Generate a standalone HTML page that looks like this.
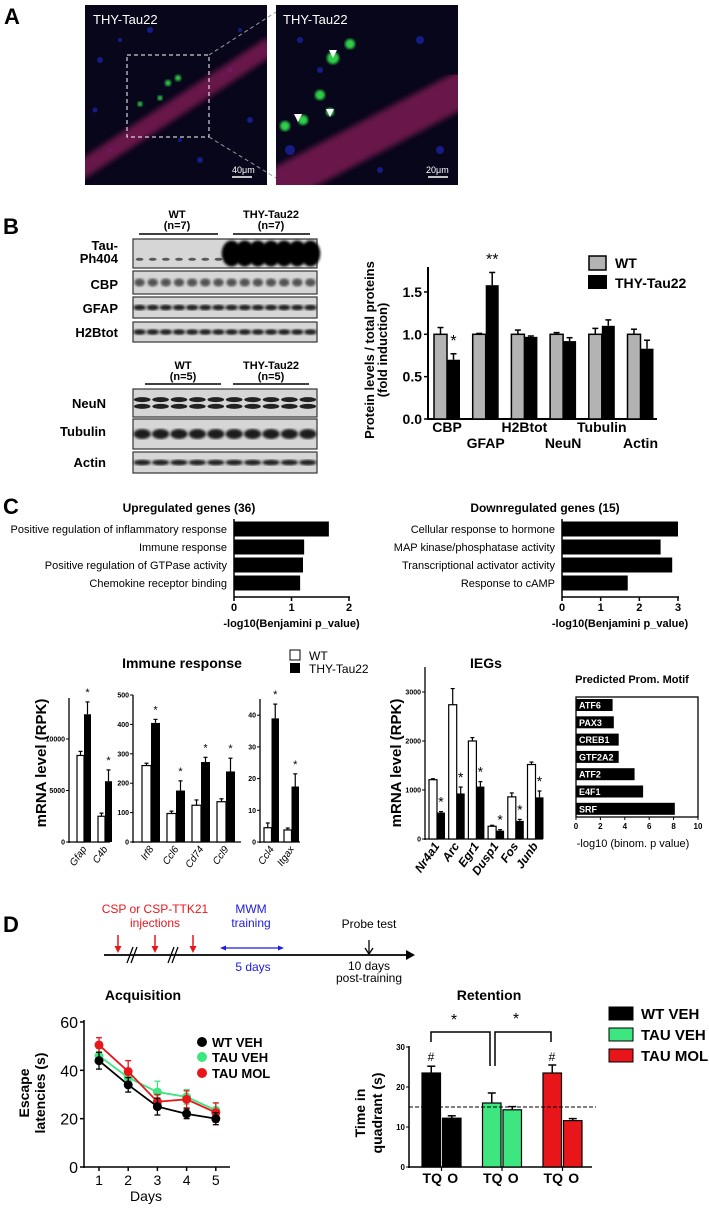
<!DOCTYPE html>
<html><head><meta charset="utf-8">
<style>
html,body{margin:0;padding:0;background:#fff;}
svg{display:block;font-family:"Liberation Sans",sans-serif;}
</style></head>
<body>
<svg id="fig" width="709" height="1210" viewBox="0 0 709 1210" xmlns="http://www.w3.org/2000/svg">
<defs>
<filter id="blur1"><feGaussianBlur stdDeviation="1.2"/></filter>
<filter id="blur3"><feGaussianBlur stdDeviation="3"/></filter>
<clipPath id="clipA1"><rect x="85" y="5" width="182" height="180"/></clipPath>
<clipPath id="clipA2"><rect x="276" y="5" width="182" height="180"/></clipPath>
</defs>
<!-- Panel A -->
<text x="4" y="24" font-size="22" font-weight="bold">A</text>
<g>
<rect x="85" y="5" width="182" height="180" fill="#07061a"/>
<g clip-path="url(#clipA1)">
<g fill="#1a22a0" opacity="0.8">
<circle cx="100" cy="60" r="3"/><circle cx="120" cy="40" r="2"/><circle cx="150" cy="30" r="3"/><circle cx="230" cy="70" r="2.5"/><circle cx="250" cy="120" r="3"/><circle cx="110" cy="150" r="2"/><circle cx="200" cy="160" r="3"/><circle cx="240" cy="30" r="2"/><circle cx="95" cy="110" r="2.5"/><circle cx="180" cy="140" r="2"/>
</g>
<line x1="78" y1="172" x2="272" y2="45" stroke="#8a1d5a" stroke-width="18" opacity="0.75" filter="url(#blur3)"/>
</g>
<circle cx="178" cy="78" r="3" fill="#2fd04a" filter="url(#blur1)"/><circle cx="168" cy="83" r="3" fill="#2fd04a" filter="url(#blur1)"/>
<circle cx="160" cy="98" r="2.5" fill="#2fd04a" filter="url(#blur1)"/><circle cx="140" cy="104" r="2.5" fill="#2fd04a" filter="url(#blur1)"/>
<rect x="127" y="55" width="82" height="82" fill="none" stroke="#fff" stroke-width="1" stroke-dasharray="4,3"/>
<text x="93" y="24" font-size="13" fill="#fff">THY-Tau22</text>
<line x1="232" y1="177" x2="252" y2="177" stroke="#fff" stroke-width="1.5"/>
<text x="232" y="173" font-size="9" fill="#fff">40μm</text>
</g>
<line x1="209" y1="55" x2="276" y2="12" stroke="#999" stroke-dasharray="4,3"/>
<line x1="209" y1="137" x2="276" y2="178" stroke="#999" stroke-dasharray="4,3"/>
<g>
<rect x="276" y="5" width="182" height="180" fill="#07061a"/>
<g clip-path="url(#clipA2)">
<g fill="#1a22a0" opacity="0.8">
<circle cx="290" cy="150" r="5"/><circle cx="300" cy="40" r="3"/><circle cx="420" cy="40" r="4"/><circle cx="440" cy="150" r="4"/><circle cx="380" cy="170" r="3"/><circle cx="320" cy="70" r="3"/>
</g>
<line x1="270" y1="190" x2="470" y2="85" stroke="#8a1d5a" stroke-width="36" opacity="0.75" filter="url(#blur3)"/>
</g>
<circle cx="333" cy="58" r="6" fill="#2fd04a" filter="url(#blur1)"/><circle cx="350" cy="44" r="5" fill="#2fd04a" filter="url(#blur1)"/>
<circle cx="320" cy="95" r="5" fill="#2fd04a" filter="url(#blur1)"/><circle cx="330" cy="112" r="4" fill="#2fd04a" filter="url(#blur1)"/>
<circle cx="303" cy="120" r="5" fill="#2fd04a" filter="url(#blur1)"/><circle cx="285" cy="126" r="5" fill="#2fd04a" filter="url(#blur1)"/>
<polygon points="329,50 337,50 333,58" fill="#fff"/><polygon points="294,114 302,114 298,122" fill="#fff"/><polygon points="326,109 334,109 330,117" fill="#fff"/>
<text x="283" y="24" font-size="13" fill="#fff">THY-Tau22</text>
<line x1="428" y1="177" x2="448" y2="177" stroke="#fff" stroke-width="1.5"/>
<text x="426" y="173" font-size="9" fill="#fff">20μm</text>
</g>
<!-- Panel B blots -->
<text x="3" y="234" font-size="22" font-weight="bold">B</text>
<g id="blots" font-weight="bold" font-size="13"></g>
<g id="chartB"></g>
<!-- Panel C -->
<text x="3" y="514" font-size="22" font-weight="bold">C</text>
<g id="chartC"></g>
<g id="chartC2"></g>
<!-- Panel D -->
<text x="3" y="932" font-size="22" font-weight="bold">D</text>
<g id="timeline"></g>
<g id="chartD"></g>
</svg>
<script>
// ---------- data ----------
const bCats=['CBP','GFAP','H2Btot','NeuN','Tubulin','Actin'];
const bWT=[1,1,1,1,1,1];
const bWTerr=[0.08,0.01,0.05,0.02,0.07,0.06];
const bTau=[0.70,1.58,0.97,0.92,1.10,0.83];
const bTauErr=[0.07,0.15,0.01,0.04,0.07,0.10];
const bTicks=[0,0.5,1.0,1.5];

const upTerms=['Positive regulation of inflammatory response','Immune response','Positive regulation of GTPase activity','Chemokine receptor binding'];
const upVals=[1.65,1.22,1.20,1.15];
const downTerms=['Cellular response to hormone','MAP kinase/phosphatase activity','Transcriptional activator activity','Response to cAMP'];
const downVals=[3.0,2.55,2.85,1.70];

const im1Cats=['Gfap','C4b'];const im1WT=[8400,2500];const im1WTe=[400,300];const im1Tau=[12400,5900];const im1TauE=[1200,1100];
const im2Cats=['Irf8','Ccl6','Cd74','Ccl9'];const im2WT=[260,97,125,137];const im2WTe=[8,8,18,10];const im2Tau=[405,175,272,240];const im2TauE=[12,33,16,45];
const im3Cats=['Ccl4','Itgax'];const im3WT=[4.5,3.8];const im3WTe=[1.5,0.6];const im3Tau=[39,17.5];const im3TauE=[4.5,4];
const iegCats=['Nr4a1','Arc','Egr1','Dusp1','Fos','Junb'];const iegWT=[1210,2740,2000,260,860,1520];const iegWTe=[20,330,70,20,80,50];
const iegTau=[540,930,1070,170,370,850];const iegTauE=[20,130,100,20,30,130];
const motifs=['ATF6','PAX3','CREB1','GTF2A2','ATF2','E4F1','SRF'];const motifVals=[3.0,3.1,3.5,3.5,4.8,5.5,8.1];

const days=[1,2,3,4,5];
const wtVeh=[44,34,25,22,20];const wtVehE=[3.5,3,3.5,2,2.5];
const tauVeh=[46,37,31,29,23.5];const tauVehE=[3,3,4.5,3,3];
const tauMol=[50.5,39.5,27,28,22.5];const tauMolE=[3,4.5,3,3.5,4];
const retGroups=['WT VEH','TAU VEH','TAU MOL'];
const retTQ=[23.5,16,23.5];const retTQe=[1.7,2.5,2];
const retO=[12.2,14.3,11.6];const retOe=[0.6,0.8,0.5];

// ---------- helpers ----------
const NS='http://www.w3.org/2000/svg';
function mk(parent,tag,attrs,name){
  const el=document.createElementNS(NS,tag);
  for(const k in attrs) el.setAttribute(k,attrs[k]);
  
  
  parent.appendChild(el);return el;
}
function tx(parent,x,y,s,a,name){const el=mk(parent,'text',Object.assign({x:x,y:y},a||{}),name);el.textContent=s;return el;}
function ln(p,x1,y1,x2,y2,name,w,c,extra){return mk(p,'line',Object.assign({x1,y1,x2,y2,stroke:c||'#000','stroke-width':w||1},extra||{}),name);}
function errBar(p,cx,yv,ye,cap,name,w,c){ln(p,cx,yv,cx,ye,name,w||1.3,c);ln(p,cx-cap,ye,cx+cap,ye,name+'-cap',w||1.3,c);}

// ---------- blots ----------
const bl=document.getElementById('blots');
function blot(y,h,lanes,name,kind){
  mk(bl,'rect',{x:133,y:y,width:184,height:h,fill:'#d6d6d6',stroke:'#333','stroke-width':1.2},name);
  const lw=184/lanes;
  for(let i=0;i<lanes;i++){
    const cx=133+lw*(i+0.5);
    if(kind==='tau'){
      if(i<7) mk(bl,'ellipse',{cx:cx,cy:y+h*0.7,rx:lw*0.3,ry:1.5,fill:'#222',opacity:0.7},name+'-band');
      else mk(bl,'ellipse',{cx:cx,cy:y+h*0.5,rx:lw*0.75,ry:h*0.45,fill:'#050505',filter:'url(#blur1)'},name+'-band');
    } else if(kind==='neun'){
      mk(bl,'ellipse',{cx:cx,cy:y+h*0.38,rx:lw*0.45,ry:2.5,fill:'#222'},name+'-band');
      mk(bl,'ellipse',{cx:cx,cy:y+h*0.62,rx:lw*0.45,ry:2.5,fill:'#222'},name+'-band');
    } else if(kind==='cbp'){
      mk(bl,'ellipse',{cx:cx,cy:y+h*0.5,rx:lw*0.4,ry:4,fill:'#333',opacity:0.8,filter:'url(#blur1)'},name+'-band');
    } else {
      mk(bl,'ellipse',{cx:cx,cy:y+h*0.5,rx:lw*0.47,ry:kind==='thick'?5:2.8,fill:'#1a1a1a',filter:'url(#blur1)'},name+'-band');
    }
  }
}
blot(239,29,14,'blot-tau-ph404','tau');blot(271,23,14,'blot-cbp','cbp');blot(297,21,14,'blot-gfap','std');blot(322,20,14,'blot-h2btot','std');
blot(389,28,10,'blot-neun','neun');blot(419,30,10,'blot-tubulin','thick');blot(452,21,10,'blot-actin','std');
const ba={'text-anchor':'end','font-weight':'bold','font-size':13};
tx(bl,118,250,'Tau-',ba,'label-tau');tx(bl,118,263,'Ph404',ba,'label-tau');tx(bl,118,289,'CBP',ba,'label-cbp');
tx(bl,118,313,'GFAP',ba,'label-gfap');tx(bl,118,337,'H2Btot',ba,'label-h2btot');tx(bl,106,408,'NeuN',ba,'label-neun');
tx(bl,106,436,'Tubulin',ba,'label-tubulin');tx(bl,106,467,'Actin',ba,'label-actin');
const bm={'text-anchor':'middle','font-weight':'bold','font-size':11};
tx(bl,177,218,'WT',bm,'group-wt-label');tx(bl,177,229,'(n=7)',bm,'group-wt-n');ln(bl,139,234,218,234,'group-wt-line',1.5);
tx(bl,271,218,'THY-Tau22',bm,'group-tau-label');tx(bl,271,229,'(n=7)',bm,'group-tau-n');ln(bl,233,234,310,234,'group-tau-line',1.5);
tx(bl,183,369,'WT',bm,'group-wt-label');tx(bl,183,380,'(n=5)',bm,'group-wt-n');ln(bl,145,384,221,384,'group-wt-line',1.5);
tx(bl,271,369,'THY-Tau22',bm,'group-tau-label');tx(bl,271,380,'(n=5)',bm,'group-tau-n');ln(bl,233,384,309,384,'group-tau-line',1.5);

// ---------- chart B ----------
(function(){
const g=document.getElementById('chartB');
const y=v=>419-v*84.7, gx=i=>434+i*38.7, bw=13;
ln(g,428,267,428,420,'y-axis',2);ln(g,427,419,657,419,'x-axis',2);
bTicks.forEach(t=>{ln(g,424,y(t),428,y(t),'y-tick',1.5);tx(g,422,y(t)+5,t.toFixed(1),{'text-anchor':'end','font-weight':'bold','font-size':14},'y-tick-label');});
bCats.forEach((c,i)=>{
  mk(g,'rect',{x:gx(i),y:y(bWT[i]),width:bw,height:y(0)-y(bWT[i]),fill:'#b3b3b3',stroke:'#000','stroke-width':1.5},'bar-wt-'+c);
  errBar(g,gx(i)+bw/2,y(bWT[i]),y(bWT[i]+bWTerr[i]),3,'err-wt-'+c,1.5);
  mk(g,'rect',{x:gx(i)+bw,y:y(bTau[i]),width:bw,height:y(0)-y(bTau[i]),fill:'#000'},'bar-tau-'+c);
  errBar(g,gx(i)+bw*1.5,y(bTau[i]),y(bTau[i]+bTauErr[i]),3,'err-tau-'+c,1.5);
  tx(g,gx(i)+bw,i%2?448:432,c,{'text-anchor':'middle','font-weight':'bold','font-size':14},'x-label-'+c);
});
tx(g,gx(0)+bw*1.5,y(bTau[0]+bTauErr[0])-8,'*',{'text-anchor':'middle','font-size':16},'sig-cbp');
tx(g,gx(1)+bw*1.5,y(bTau[1]+bTauErr[1])-8,'**',{'text-anchor':'middle','font-size':16},'sig-gfap');
const yl=mk(g,'text',{transform:'translate(374,350) rotate(-90)','text-anchor':'middle','font-weight':'bold','font-size':13},'y-axis-title');
yl.textContent='Protein levels / total proteins';
const yl2=mk(g,'text',{transform:'translate(387,350) rotate(-90)','text-anchor':'middle','font-weight':'bold','font-size':13},'y-axis-title');
yl2.textContent='(fold induction)';
mk(g,'rect',{x:589,y:256,width:17,height:14,fill:'#b3b3b3',stroke:'#000','stroke-width':1.5},'legend-wt-swatch');
tx(g,615,268,'WT',{'font-weight':'bold','font-size':14},'legend-wt');
mk(g,'rect',{x:588,y:275,width:19,height:14,fill:'#000'},'legend-tau-swatch');
tx(g,615,288,'THY-Tau22',{'font-weight':'bold','font-size':14},'legend-tau');
})();

// ---------- chart C top ----------
(function(){
const g=document.getElementById('chartC');
function hbar(terms,vals,x0,xe,maxV,title,tcx,name){
  const x=v=>x0+v*(xe-x0)/maxV;
  const yc=[529,547,565,583];
  tx(g,tcx,512,title,{'text-anchor':'middle','font-weight':'bold','font-size':12},name+'-title');
  ln(g,x0,519,x0,597,name+'-y-axis',1.5);ln(g,x0,597,xe+1,597,name+'-x-axis',1.5);
  for(let t=0;t<=maxV;t++){ln(g,x(t),597,x(t),601,name+'-tick',1.5);tx(g,x(t),611,String(t),{'text-anchor':'middle','font-weight':'bold','font-size':11},name+'-tick-label');}
  terms.forEach((s,i)=>{
    mk(g,'rect',{x:x0,y:yc[i]-7.5,width:x(vals[i])-x0,height:15,fill:'#000'},name+'-bar');
    tx(g,x0-7,yc[i]+4,s,{'text-anchor':'end','font-size':11},name+'-term');
  });
  tx(g,(x0+xe)/2,627,'-log10(Benjamini p_value)',{'text-anchor':'middle','font-weight':'bold','font-size':11},name+'-x-title');
}
hbar(upTerms,upVals,234,349,2,'Upregulated genes (36)',189,'up');
hbar(downTerms,downVals,562,678,3,'Downregulated genes (15)',545,'down');
})();

// ---------- chart C bottom ----------
(function(){
const g=document.getElementById('chartC2');
function sub(o){
  const y=v=>o.y0-v*o.k;
  ln(g,o.ax,o.top,o.ax,o.y0+1,o.n+'-y-axis',1.3);ln(g,o.ax,o.y0,o.xe,o.y0,o.n+'-x-axis',1.3);
  o.ticks.forEach(t=>{ln(g,o.ax-3,y(t),o.ax,y(t),o.n+'-tick',1);tx(g,o.ax-4,y(t)+2.5,String(t),{'text-anchor':'end','font-size':o.tf||7,'font-weight':'bold'},o.n+'-tick-label');});
  o.cats.forEach((c,i)=>{
    const x=o.fx+i*o.sp;
    mk(g,'rect',{x:x,y:y(o.wt[i]),width:o.bw,height:o.y0-y(o.wt[i]),fill:'#fff',stroke:'#000','stroke-width':1.2},'bar-wt-'+c);
    errBar(g,x+o.bw/2,y(o.wt[i]),y(o.wt[i]+o.wte[i]),2,'err-wt-'+c,1.2);
    mk(g,'rect',{x:x+o.bw,y:y(o.tau[i]),width:o.bw,height:o.y0-y(o.tau[i]),fill:'#000'},'bar-tau-'+c);
    errBar(g,x+o.bw*1.5,y(o.tau[i]),y(o.tau[i]+o.taue[i]),2,'err-tau-'+c,1.2);
    tx(g,x+o.bw*1.5,y(o.tau[i]+o.taue[i])-(o.sg||6),'*',{'text-anchor':'middle','font-size':o.sf||11},'sig-'+c);
    const lx=x+o.bw+3,ly=o.y0+7;
    const t=mk(g,'text',{transform:`translate(${lx},${ly}) rotate(-55)`,'text-anchor':'end','font-style':'italic','font-weight':o.lw||'normal','font-size':o.lf||10},'x-label-'+c);
    t.textContent=c;
  });
}
sub({n:'immune-a',ax:69,xe:110,y0:842,k:103/10000,top:698,ticks:[0,5000,10000],cats:im1Cats,wt:im1WT,wte:im1WTe,tau:im1Tau,taue:im1TauE,fx:77,sp:21,bw:7});
sub({n:'immune-b',ax:133,xe:241,y0:842,k:0.294,top:695,ticks:[0,100,200,300,400,500],cats:im2Cats,wt:im2WT,wte:im2WTe,tau:im2Tau,taue:im2TauE,fx:142,sp:25,bw:9});
sub({n:'immune-c',ax:260,xe:300,y0:842,k:3.17,top:699,ticks:[0,10,20,30,40],cats:im3Cats,wt:im3WT,wte:im3WTe,tau:im3Tau,taue:im3TauE,fx:264,sp:20,bw:7.5});
sub({n:'ieg',ax:425,xe:543,y0:839,k:0.049,top:667,ticks:[0,1000,2000,3000],cats:iegCats,wt:iegWT,wte:iegWTe,tau:iegTau,taue:iegTauE,fx:429,sp:19.7,bw:8,lw:'bold',lf:12,sf:14,sg:5});
tx(g,182,668,'Immune response',{'text-anchor':'middle','font-weight':'bold','font-size':14},'immune-title');
tx(g,486,668,'IEGs',{'text-anchor':'middle','font-weight':'bold','font-size':14},'ieg-title');
let t=mk(g,'text',{transform:'translate(46,763) rotate(-90)','text-anchor':'middle','font-weight':'bold','font-size':15},'immune-y-title');t.textContent='mRNA level (RPK)';
t=mk(g,'text',{transform:'translate(401,763) rotate(-90)','text-anchor':'middle','font-weight':'bold','font-size':15},'ieg-y-title');t.textContent='mRNA level (RPK)';
mk(g,'rect',{x:290,y:650,width:10,height:10,fill:'#fff',stroke:'#000','stroke-width':1},'legend-wt-swatch');
tx(g,309,660,'WT',{'font-size':12},'legend-wt');
mk(g,'rect',{x:290,y:663,width:10,height:10,fill:'#000'},'legend-tau-swatch');
tx(g,309,673,'THY-Tau22',{'font-size':12},'legend-tau');
// motif
const x=v=>576+v*12.2;
tx(g,632,683,'Predicted Prom. Motif',{'text-anchor':'middle','font-weight':'bold','font-size':11},'motif-title');
mk(g,'rect',{x:576,y:697,width:122,height:120,fill:'none',stroke:'#000','stroke-width':1.3},'motif-frame');
motifs.forEach((m,i)=>{
  const yy=699+i*17.3;
  mk(g,'rect',{x:576,y:yy,width:x(motifVals[i])-576,height:12,fill:'#000'},'motif-bar-'+m);
  tx(g,579,yy+9.5,m,{'font-size':9,'font-weight':'bold',fill:'#fff'},'motif-label-'+m);
});
[0,2,4,6,8,10].forEach(v=>{ln(g,x(v),817,x(v),820,'motif-tick',1);tx(g,x(v),829,String(v),{'text-anchor':'middle','font-size':8,'font-weight':'bold'},'motif-tick-label');});
tx(g,633,847,'-log10 (binom. p value)',{'text-anchor':'middle','font-size':11},'motif-x-title');
})();

// ---------- timeline ----------
(function(){
const g=document.getElementById('timeline');
tx(g,155,913,'CSP or CSP-TTK21',{'text-anchor':'middle','font-size':12,fill:'#e8161b'},'injection-label');
tx(g,155,927,'injections',{'text-anchor':'middle','font-size':12,fill:'#e8161b'},'injection-label');
tx(g,251,913,'MWM',{'text-anchor':'middle','font-size':12,fill:'#1a1ae0'},'mwm-label');
tx(g,251,927,'training',{'text-anchor':'middle','font-size':12,fill:'#1a1ae0'},'mwm-label');
tx(g,369,928,'Probe test',{'text-anchor':'middle','font-size':12},'probe-label');
ln(g,104,955,408,955,'timeline-axis',1.8);
mk(g,'polygon',{points:'406,950 415,955 406,960',fill:'#000'},'timeline-arrowhead');
[118,155,193].forEach(xx=>{ln(g,xx,935,xx,951,'injection-arrow',1.5,'#e8161b');mk(g,'polygon',{points:`${xx-3.5},946 ${xx+3.5},946 ${xx},953`,fill:'#e8161b'},'injection-arrowhead');});
[132,173].forEach(xx=>{ln(g,xx-5,963,xx+1,947,'break-mark',1.3);ln(g,xx-1,963,xx+5,947,'break-mark',1.3);});
ln(g,223,948,280,948,'training-span',1.2,'#1a1ae0');
mk(g,'polygon',{points:'220,948 226,945.5 226,950.5',fill:'#1a1ae0'},'training-arrow-left');
mk(g,'polygon',{points:'284,948 278,945.5 278,950.5',fill:'#1a1ae0'},'training-arrow-right');
tx(g,253,971,'5 days',{'text-anchor':'middle','font-size':12,fill:'#1a1ae0'},'training-duration');
ln(g,369,940,369,953,'probe-arrow',1.3);ln(g,365,948,369,954,'probe-arrow',1.3);ln(g,373,948,369,954,'probe-arrow',1.3);
tx(g,369,970,'10 days',{'text-anchor':'middle','font-size':12},'probe-delay');
tx(g,369,982,'post-training',{'text-anchor':'middle','font-size':12},'probe-delay');
})();

// ---------- chart D ----------
(function(){
const g=document.getElementById('chartD');
const x=d=>99+(d-1)*29.2, y=v=>1167-v*2.417;
tx(g,143,1000,'Acquisition',{'text-anchor':'middle','font-weight':'bold','font-size':14},'acquisition-title');
ln(g,84,1020,84,1168,'acq-y-axis',1.5);ln(g,84,1167,230,1167,'acq-x-axis',1.5);
[0,20,40,60].forEach(t=>{ln(g,80,y(t),84,y(t),'acq-y-tick',1.5);tx(g,78,y(t)+6,String(t),{'text-anchor':'end','font-size':16},'acq-y-tick-label');});
days.forEach(d=>{ln(g,x(d),1167,x(d),1171,'acq-x-tick',1.5);tx(g,x(d),1185,String(d),{'text-anchor':'middle','font-size':14},'acq-x-tick-label');});
tx(g,146,1201,'Days',{'text-anchor':'middle','font-size':14},'acq-x-title');
let t=mk(g,'text',{transform:'translate(29,1093) rotate(-90)','text-anchor':'middle','font-weight':'bold','font-size':14},'acq-y-title');t.textContent='Escape';
t=mk(g,'text',{transform:'translate(45,1093) rotate(-90)','text-anchor':'middle','font-weight':'bold','font-size':14},'acq-y-title');t.textContent='latencies (s)';
const series=[['tau-veh',tauVeh,tauVehE,'#3de67f'],['tau-mol',tauMol,tauMolE,'#e8161b'],['wt-veh',wtVeh,wtVehE,'#000']];
series.forEach(s=>{
  mk(g,'polyline',{points:days.map((d,i)=>x(d)+','+y(s[1][i])).join(' '),fill:'none',stroke:s[3],'stroke-width':1.8},'line-'+s[0]);
  days.forEach((d,i)=>{
    ln(g,x(d),y(s[1][i]-s[2][i]),x(d),y(s[1][i]+s[2][i]),'err-'+s[0],1.3,s[3]);
    ln(g,x(d)-3,y(s[1][i]+s[2][i]),x(d)+3,y(s[1][i]+s[2][i]),'err-cap-'+s[0],1.3,s[3]);
    ln(g,x(d)-3,y(s[1][i]-s[2][i]),x(d)+3,y(s[1][i]-s[2][i]),'err-cap-'+s[0],1.3,s[3]);
    mk(g,'circle',{cx:x(d),cy:y(s[1][i]),r:4.5,fill:s[3]},'point-'+s[0]);
  });
});
[['WT VEH','#000',1042],['TAU VEH','#3de67f',1057],['TAU MOL','#e8161b',1073]].forEach(l=>{
  mk(g,'circle',{cx:202,cy:l[2],r:5,fill:l[1]},'legend-dot');
  tx(g,212,l[2]+5,l[0],{'font-weight':'bold','font-size':13},'legend-'+l[0].toLowerCase().replace(' ','-'));
});
// retention
const ry=v=>1167-v*4;
tx(g,489,1000,'Retention',{'text-anchor':'middle','font-weight':'bold','font-size':14},'retention-title');
ln(g,409,1046,409,1168,'ret-y-axis',1.5);ln(g,408,1167,592,1167,'ret-x-axis',1.5);
[0,10,20,30].forEach(v=>{ln(g,406,ry(v),409,ry(v),'ret-y-tick',1);tx(g,405,ry(v)+3,String(v),{'text-anchor':'end','font-size':8,'font-weight':'bold'},'ret-y-tick-label');});
t=mk(g,'text',{transform:'translate(365,1113) rotate(-90)','text-anchor':'middle','font-weight':'bold','font-size':14},'ret-y-title');t.textContent='Time in';
t=mk(g,'text',{transform:'translate(382,1113) rotate(-90)','text-anchor':'middle','font-weight':'bold','font-size':14},'ret-y-title');t.textContent='quadrant (s)';
const cols=['#000','#3de67f','#e8161b'];
retGroups.forEach((gname,i)=>{
  const gx=422+i*60.5,bw=18.5;
  mk(g,'rect',{x:gx,y:ry(retTQ[i]),width:bw,height:ry(0)-ry(retTQ[i]),fill:cols[i],stroke:'#000','stroke-width':1.2},'bar-tq-'+i);
  errBar(g,gx+bw/2,ry(retTQ[i]),ry(retTQ[i]+retTQe[i]),4,'err-tq-'+i,1.5);
  mk(g,'rect',{x:gx+bw+2,y:ry(retO[i]),width:bw,height:ry(0)-ry(retO[i]),fill:cols[i],stroke:'#000','stroke-width':1.2},'bar-o-'+i);
  errBar(g,gx+bw*1.5+2,ry(retO[i]),ry(retO[i]+retOe[i]),4,'err-o-'+i,1.5);
  ln(g,gx+bw+1,1167,gx+bw+1,1171,'ret-x-tick',1.2);
  tx(g,gx+bw/2+1,1183,'TQ',{'text-anchor':'middle','font-weight':'bold','font-size':14},'label-tq');
  tx(g,gx+bw*1.5+3,1183,'O',{'text-anchor':'middle','font-weight':'bold','font-size':14},'label-o');
});
ln(g,409,ry(15),596,ry(15),'chance-line',1,'#000',{'stroke-dasharray':'4,2'});
tx(g,431,1061,'#',{'text-anchor':'middle','font-size':12},'sig-hash-wt');
tx(g,552,1061,'#',{'text-anchor':'middle','font-size':12},'sig-hash-mol');
mk(g,'polyline',{points:'431,1042 431,1032 490,1032 490,1066',fill:'none',stroke:'#000','stroke-width':1.5},'bracket-left');
mk(g,'polyline',{points:'495,1066 495,1032 551,1032 551,1042',fill:'none',stroke:'#000','stroke-width':1.5},'bracket-right');
tx(g,454,1025,'*',{'text-anchor':'middle','font-size':16},'sig-star-left');
tx(g,516,1024,'*',{'text-anchor':'middle','font-size':16},'sig-star-right');
[['WT VEH',1007],['TAU VEH',1028],['TAU MOL',1049]].forEach((l,i)=>{
  mk(g,'rect',{x:609,y:l[1],width:24,height:13,fill:cols[i],stroke:'#000','stroke-width':1},'legend-swatch');
  tx(g,641,l[1]+12,l[0],{'font-weight':'bold','font-size':15},'legend-'+l[0].toLowerCase().replace(' ','-'));
});
})();
</script>
</body></html>
